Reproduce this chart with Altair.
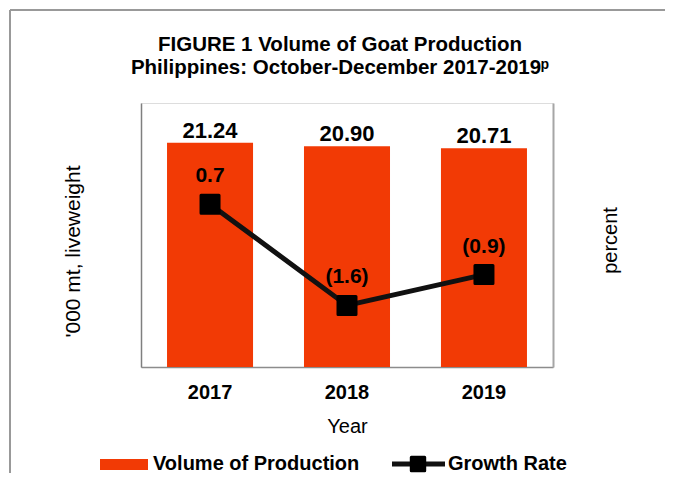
import altair as alt
import pandas as pd

years = ["2017", "2018", "2019"]
volume = [21.24, 20.90, 20.71]
growth = [0.7, -1.6, -0.9]
series = ["Volume of Production", "Growth Rate"]
title_lines = ["FIGURE 1 Volume of Goat Production",
               "Philippines: October-December 2017-2019\u1d56"]
y_left_title = "'000 mt, liveweight"
y_right_title = "percent"
x_title = "Year"

growth_labels = [f"({abs(v):.1f})" if v < 0 else f"{v:.1f}" for v in growth]

df = pd.DataFrame({"Year": years, "Volume": volume, "Growth": growth,
                   "GrowthLabel": growth_labels})
one = pd.DataFrame({"k": [0]})

FONT = "Liberation Sans"
RED = "#F23A05"
BLACK = "#000000"

x_enc = alt.X("Year:N",
              scale=alt.Scale(paddingInner=0.372, paddingOuter=0.19),
              axis=alt.Axis(title=x_title, labelAngle=0, ticks=False, tickSize=0,
                            labelFontSize=20, labelFontWeight="bold", labelFont=FONT,
                            labelColor=BLACK, labelBaseline="alphabetic", labelPadding=31,
                            domainColor="#8c8c8c", domainWidth=1.5,
                            titleFontSize=20, titleFontWeight="normal", titleFont=FONT,
                            titleColor=BLACK, titleBaseline="alphabetic", titleY=65))

y_left = alt.Y("Volume:Q", scale=alt.Scale(domain=[0, 25]),
               axis=alt.Axis(orient="left", labels=False, ticks=False, grid=False,
                             domainColor="#7f7f7f", domainWidth=1.5,
                             title=y_left_title, titleFontSize=21, titleFontWeight="normal",
                             titleFont=FONT, titleColor=BLACK, titleAngle=270,
                             titleBaseline="alphabetic", titleX=-62, titleY=148))

y_right = alt.Y("Growth:Q", scale=alt.Scale(domain=[-3, 3]),
                axis=alt.Axis(orient="right", labels=False, ticks=False, grid=False,
                              domainColor="#a6a6a6", domainWidth=2,
                              title=y_right_title, titleFontSize=20, titleFontWeight="normal",
                              titleFont=FONT, titleColor=BLACK, titleAngle=270,
                              titleBaseline="alphabetic", titleX=63, titleY=137))

base = alt.Chart(df)

bars = base.mark_bar(color=RED).encode(x=x_enc, y=y_left)
bar_text = base.mark_text(font=FONT, fontSize=22, fontWeight="bold", color=BLACK,
                          baseline="alphabetic", dy=-5).encode(
    x=x_enc, y=y_left, text=alt.Text("Volume:Q", format=".2f"))

line = base.mark_line(color="#111111", strokeWidth=5).encode(x=x_enc, y=y_right)
points = base.mark_point(shape="square", filled=True, fill=BLACK, stroke=BLACK,
                         strokeWidth=3, strokeJoin="round", size=324, opacity=1).encode(
    x=x_enc, y=y_right)
g_text = base.mark_text(font=FONT, fontSize=21, fontWeight="bold", color=BLACK,
                        baseline="alphabetic", dy=-22).encode(
    x=x_enc, y=y_right, text="GrowthLabel:N")

left_layer = alt.layer(bars, bar_text)
right_layer = alt.layer(line, points, g_text)

# chart frame (decorative)
frame_top = alt.Chart(one).mark_rule(color="#999999", strokeWidth=2).encode(
    x=alt.value(-131), x2=alt.value(540), y=alt.value(-93))
frame_left = alt.Chart(one).mark_rule(color="#999999", strokeWidth=2).encode(
    x=alt.value(-131), y=alt.value(-93), y2=alt.value(400))

# legend (decorative)
leg_rect = alt.Chart(one).mark_rect(color=RED).encode(
    x=alt.value(-41), x2=alt.value(7), y=alt.value(356), y2=alt.value(367))
leg_text1 = alt.Chart(one).mark_text(font=FONT, fontSize=20, fontWeight="bold", color=BLACK,
                                     align="left", baseline="alphabetic").encode(
    x=alt.value(12), y=alt.value(367), text=alt.value(series[0]))
leg_line = alt.Chart(one).mark_rule(color="#111111", strokeWidth=5).encode(
    x=alt.value(251), x2=alt.value(304), y=alt.value(361))
leg_pt = alt.Chart(one).mark_point(shape="square", filled=True, fill=BLACK, stroke=BLACK,
                                   strokeWidth=3, strokeJoin="round", size=180, opacity=1).encode(
    x=alt.value(277), y=alt.value(361))
leg_text2 = alt.Chart(one).mark_text(font=FONT, fontSize=20, fontWeight="bold", color=BLACK,
                                     align="left", baseline="alphabetic").encode(
    x=alt.value(307), y=alt.value(367), text=alt.value(series[1]))

chart = alt.layer(
    left_layer, right_layer,
    frame_top, frame_left,
    leg_rect, leg_text1, leg_line, leg_pt, leg_text2,
).resolve_scale(y="independent").properties(
    width=412, height=264,
    autosize=alt.AutoSizeParams(type="none"),
    padding={"left": 133, "top": 95, "right": 112, "bottom": 106},
    title=alt.TitleParams(text=title_lines, fontSize=20.5, fontWeight="bold", font=FONT,
                          color=BLACK, anchor="middle", lineHeight=23, dx=-7, dy=73),
).configure_view(stroke=None).configure(font=FONT, background="white")

chart.save("out.html", embed_options={"renderer": "svg", "actions": False})
